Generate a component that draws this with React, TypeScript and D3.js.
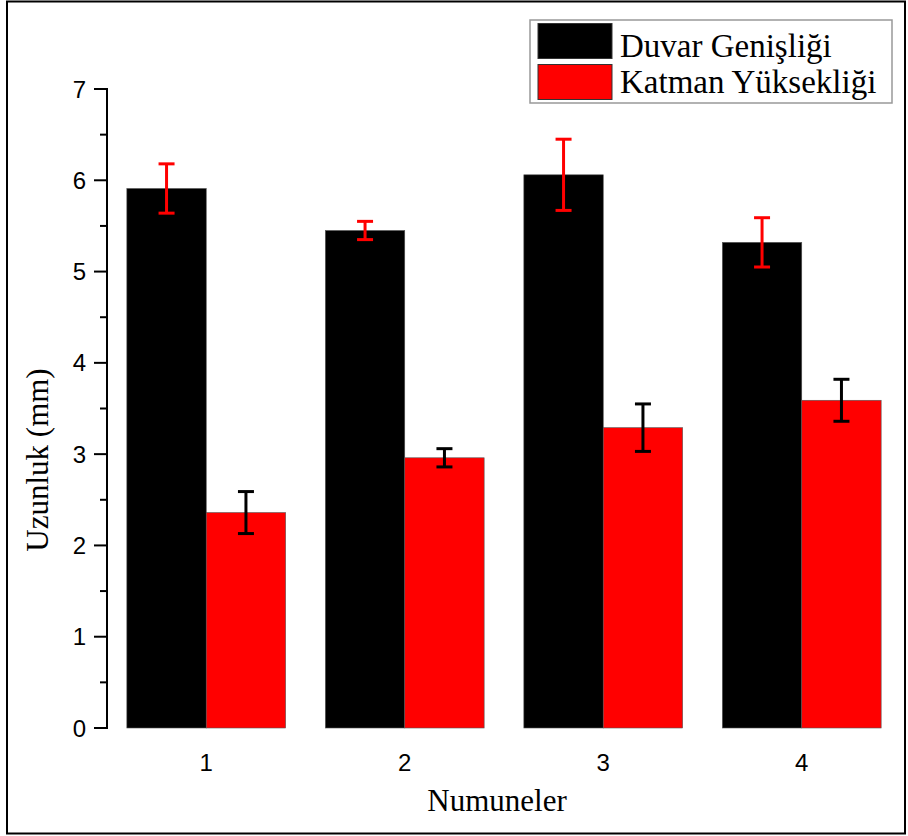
import React from "react";
import * as d3 from "d3";

const categories = ["1", "2", "3", "4"];
const seriesNames = ["Duvar Genişliği", "Katman Yüksekliği"];
const duvarValues = [5.91, 5.45, 6.06, 5.32];
const duvarErrors = [0.27, 0.1, 0.39, 0.27];
const katmanValues = [2.36, 2.96, 3.29, 3.59];
const katmanErrors = [0.23, 0.1, 0.26, 0.23];
const yTicks = [0, 1, 2, 3, 4, 5, 6, 7];
const yMinorTicks = [0.5, 1.5, 2.5, 3.5, 4.5, 5.5, 6.5];

const W = 908;
const H = 836;

export default function App() {
  const x = d3.scaleBand<string>().domain(categories).range([107, 901]).paddingInner(0.2).paddingOuter(0.1);
  const sub = d3.scaleBand<number>().domain([0, 1]).range([0, x.bandwidth()]);
  const y = d3.scaleLinear().domain([0, 7]).range([728, 89]);

  const series = [
    { values: duvarValues, errors: duvarErrors, fill: "#000000", err: "#ff0000" },
    { values: katmanValues, errors: katmanErrors, fill: "#ff0000", err: "#000000" },
  ];
  const axisX = 107;
  const sans = "'Liberation Sans', Arial, sans-serif";
  const serif = "'Liberation Serif', 'Times New Roman', serif";

  return (
    <svg width={W} height={H} style={{ position: "absolute", left: 0, top: 0 }}>
      <rect x={0} y={0} width={W} height={H} fill="#fff" />
      <rect x={7} y={1.5} width={898} height={832} fill="none" stroke="#000" strokeWidth={2} />

      {series.map((s, si) =>
        categories.map((c, i) => {
          const bx = (x(c) as number) + (sub(si) as number);
          const bw = sub.bandwidth();
          return (
            <rect key={`b${si}${i}`} x={bx} y={y(s.values[i])} width={bw} height={y(0) - y(s.values[i])}
              fill={s.fill} stroke="#555" strokeWidth={0.6} />
          );
        })
      )}
      {series.map((s, si) =>
        categories.map((c, i) => {
          const cx = (x(c) as number) + (sub(si) as number) + sub.bandwidth() / 2;
          const top = y(s.values[i] + s.errors[i]);
          const bot = y(s.values[i] - s.errors[i]);
          return (
            <g key={`e${si}${i}`} stroke={s.err} strokeWidth={3}>
              <line x1={cx} x2={cx} y1={top} y2={bot} />
              <line x1={cx - 8} x2={cx + 8} y1={top} y2={top} />
              <line x1={cx - 8} x2={cx + 8} y1={bot} y2={bot} />
            </g>
          );
        })
      )}

      <line x1={axisX} x2={axisX} y1={y(7) - 1} y2={y(0) + 1} stroke="#000" strokeWidth={2} />
      {yTicks.map((t) => (
        <g key={`t${t}`}>
          <line x1={axisX - 13} x2={axisX} y1={y(t)} y2={y(t)} stroke="#000" strokeWidth={2} />
          <text x={86} y={y(t)} dy="0.36em" textAnchor="end" fontFamily={sans} fontSize={24} fill="#000">
            {t}
          </text>
        </g>
      ))}
      {yMinorTicks.map((t) => (
        <line key={`m${t}`} x1={axisX - 7} x2={axisX} y1={y(t)} y2={y(t)} stroke="#000" strokeWidth={2} />
      ))}
      {categories.map((c) => (
        <text key={`x${c}`} x={(x(c) as number) + x.bandwidth() / 2} y={771} textAnchor="middle"
          fontFamily={sans} fontSize={24} fill="#000">
          {c}
        </text>
      ))}

      <text x={497} y={811} textAnchor="middle" fontFamily={serif} fontSize={31} fill="#000">
        Numuneler
      </text>
      <text transform="translate(48,460) rotate(-90)" textAnchor="middle" fontFamily={serif} fontSize={31} fill="#000">
        Uzunluk (mm)
      </text>

      <rect x={530} y={20} width={362} height={83} fill="#fff" stroke="#999" strokeWidth={1.5} />
      {series.map((s, si) => (
        <g key={`l${si}`}>
          <rect x={538} y={23.5 + si * 41} width={74} height={35} fill={s.fill} stroke="#333" strokeWidth={1} />
          <text x={620} y={57 + si * 36} fontFamily={serif} fontSize={33} fill="#000">
            {seriesNames[si]}
          </text>
        </g>
      ))}
    </svg>
  );
}
